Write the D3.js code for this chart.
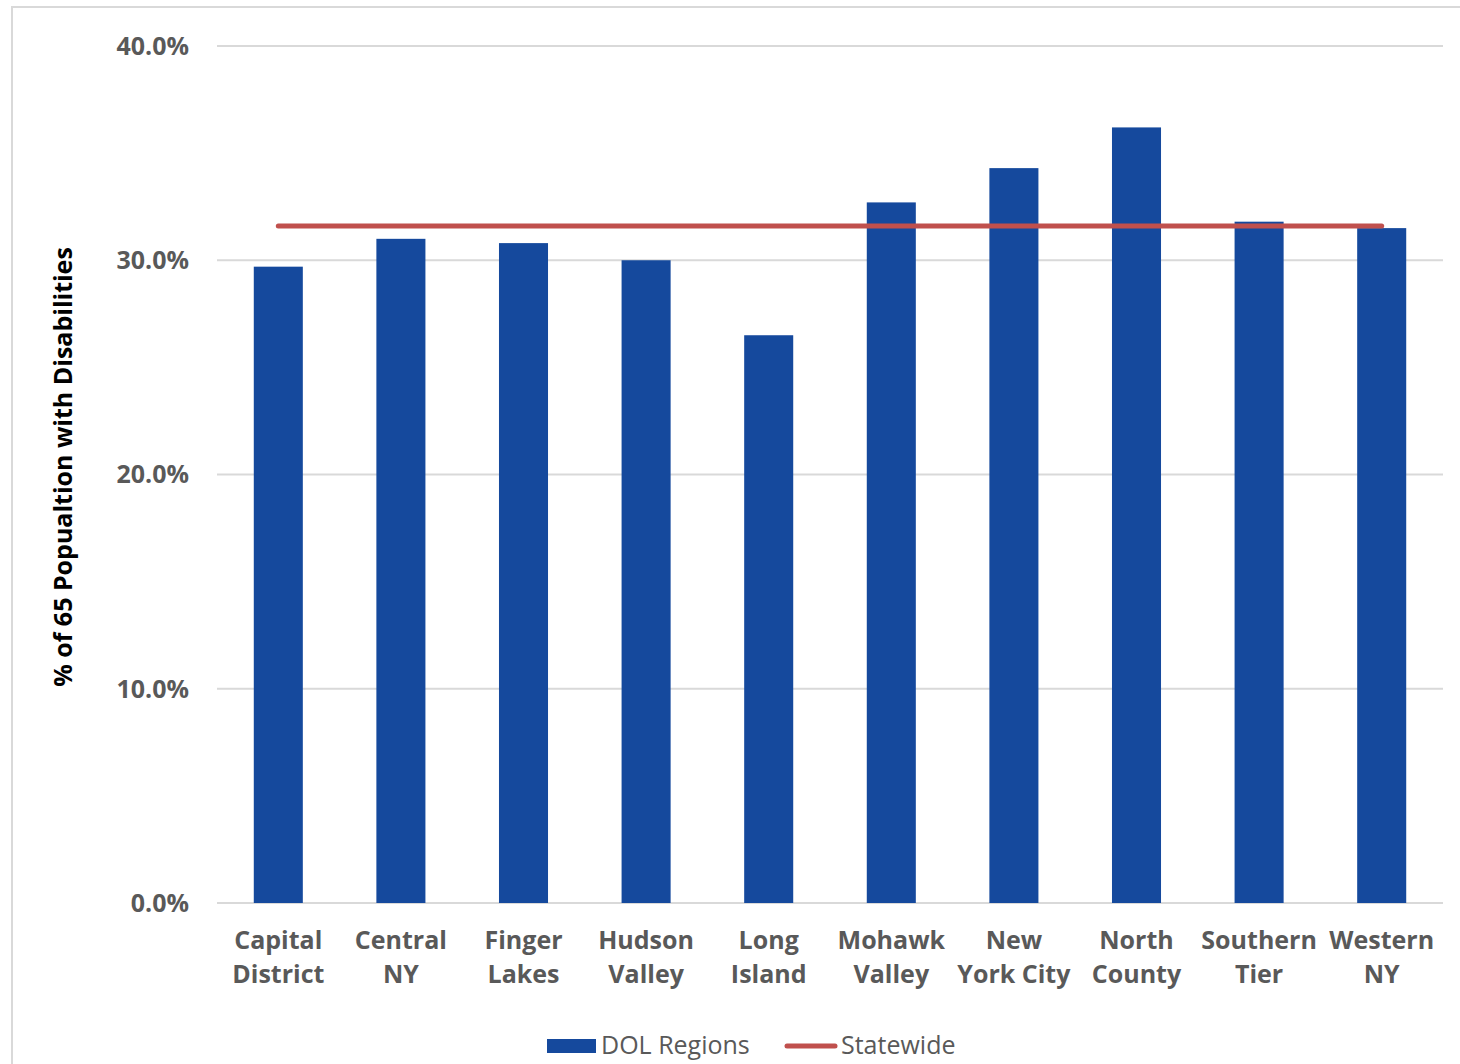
<!DOCTYPE html>
<html>
<head>
<meta charset="utf-8">
<script src="https://d3js.org/d3.v7.min.js"></script>
<style>
  body { margin: 0; background: #fff; }
  text { font-family: "Open Sans", sans-serif; }
</style>
</head>
<body>
<svg id="svg"></svg>
<script>
  const regions = [
    ['Capital', 'District'], ['Central', 'NY'], ['Finger', 'Lakes'], ['Hudson', 'Valley'],
    ['Long', 'Island'], ['Mohawk', 'Valley'], ['New', 'York City'], ['North', 'County'],
    ['Southern', 'Tier'], ['Western', 'NY']
  ];
  const dolValues = [29.7, 31.0, 30.8, 30.0, 26.5, 32.7, 34.3, 36.2, 31.8, 31.5];
  const statewide = [31.6, 31.6, 31.6, 31.6, 31.6, 31.6, 31.6, 31.6, 31.6, 31.6];
  const yTicks = [0, 10, 20, 30, 40];

  let width = 1460;
  let height = 1064;
  let plotLeft = 217, plotRight = 1443, plotTop = 46, plotBottom = 903;

  let svg = d3.select('#svg').attr('width', width).attr('height', height);

  // outer frame
  svg.append('rect')
    .attr('x', 12).attr('y', 7).attr('width', 1460).attr('height', 1080)
    .attr('fill', 'none').attr('stroke', '#d9d9d9').attr('stroke-width', 2);

  let names = regions.map(d => d.join(' '));

  let x = d3.scaleBand().domain(names).range([plotLeft, plotRight])
    .paddingInner(0.6).paddingOuter(0.3);
  let y = d3.scaleLinear().domain([0, 40]).range([plotBottom, plotTop]);

  // gridlines
  svg.append('g').selectAll('line').data(yTicks).enter().append('line')
    .attr('x1', plotLeft).attr('x2', plotRight)
    .attr('y1', d => y(d)).attr('y2', d => y(d))
    .attr('stroke', '#d9d9d9').attr('stroke-width', 2);

  // y tick labels
  svg.append('g').selectAll('text').data(yTicks).enter().append('text')
    .attr('x', 189).attr('y', d => y(d)).attr('dy', '0.35em')
    .attr('text-anchor', 'end')
    .attr('font-size', 25).attr('font-weight', 700).attr('fill', '#595959')
    .text(d => d.toFixed(1) + '%');

  // bars
  svg.append('g').selectAll('rect').data(dolValues).enter().append('rect')
    .attr('x', (d, i) => x(names[i]))
    .attr('y', d => y(d))
    .attr('width', x.bandwidth())
    .attr('height', d => y(0) - y(d))
    .attr('fill', '#15499d');

  // statewide line
  let line = d3.line()
    .x((d, i) => x(names[i]) + x.bandwidth() / 2)
    .y(d => y(d));
  svg.append('path').datum(statewide)
    .attr('d', line)
    .attr('fill', 'none').attr('stroke', '#c0504d')
    .attr('stroke-width', 5).attr('stroke-linecap', 'round');

  // x labels
  let xl = svg.append('g').selectAll('text').data(regions).enter().append('text')
    .attr('text-anchor', 'middle')
    .attr('font-size', 25).attr('font-weight', 700).attr('fill', '#595959')
    .attr('transform', (d, i) => `translate(${x(names[i]) + x.bandwidth() / 2},0)`);
  xl.append('tspan').attr('x', 0).attr('y', 949).text(d => d[0]);
  xl.append('tspan').attr('x', 0).attr('y', 983).text(d => d[1]);

  // y axis title
  svg.append('text')
    .attr('transform', 'translate(72,467) rotate(-90)')
    .attr('text-anchor', 'middle')
    .attr('font-size', 25).attr('font-weight', 700).attr('fill', '#000')
    .text('% of 65 Popualtion with Disabilities');

  // legend
  let lg = svg.append('g');
  lg.append('rect').attr('x', 547).attr('y', 1039).attr('width', 49).attr('height', 14)
    .attr('fill', '#15499d');
  lg.append('text').attr('x', 601).attr('y', 1054)
    .attr('font-size', 25).attr('fill', '#595959').text('DOL Regions');
  lg.append('line').attr('x1', 787).attr('x2', 835).attr('y1', 1046).attr('y2', 1046)
    .attr('stroke', '#c0504d').attr('stroke-width', 5).attr('stroke-linecap', 'round');
  lg.append('text').attr('x', 841).attr('y', 1054)
    .attr('font-size', 25).attr('fill', '#595959').text('Statewide');
</script>
</body>
</html>
